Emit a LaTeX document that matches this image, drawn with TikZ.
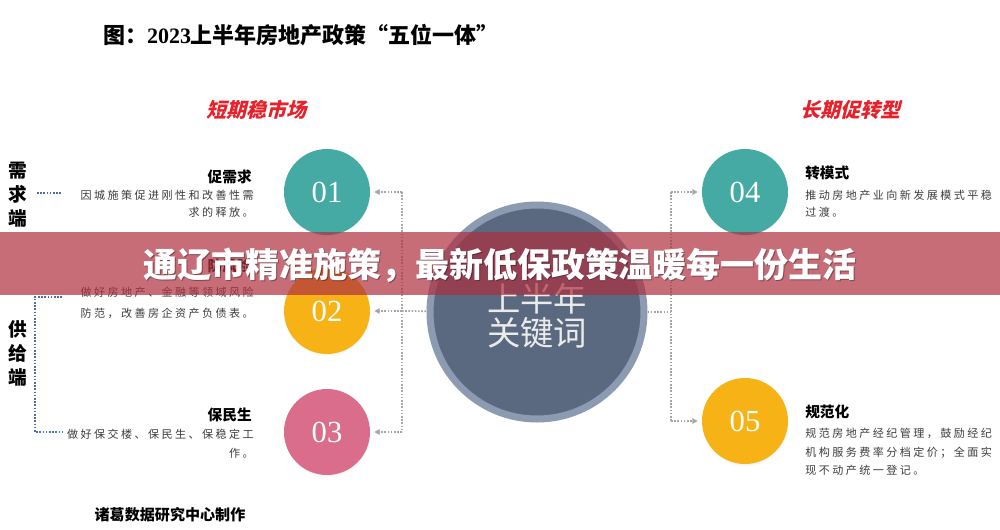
\documentclass[tikz,border=0pt]{standalone}
\usepackage{fontspec}
\newfontfamily\cjk{Noto Sans CJK SC}
\newfontfamily\cjkbody[LetterSpace=22]{Noto Sans CJK SC}
\newfontfamily\cjkslant[FakeSlant=0.25]{Noto Sans CJK SC}
\newfontfamily\serif{Liberation Serif}
\usetikzlibrary{arrows.meta,shadows}
\definecolor{cteal}{RGB}{69,170,164}
\definecolor{camber}{RGB}{247,179,22}
\definecolor{cpink}{RGB}{218,108,140}
\definecolor{cslate}{RGB}{90,104,128}
\definecolor{cring}{RGB}{140,155,178}
\definecolor{cdot}{RGB}{166,166,166}
\definecolor{cblue}{RGB}{79,110,168}
\definecolor{cred}{RGB}{232,32,42}
\definecolor{cbanner}{RGB}{174,48,64}
\definecolor{ctext}{RGB}{60,60,60}
\tikzset{
  numcircle/.style={circle, minimum size=64.5pt, inner sep=0pt, text=white,
    font=\serif\fontsize{23}{23}\selectfont,
    circular drop shadow={shadow xshift=0pt, shadow yshift=-2pt, opacity=0.18, shadow scale=1.0}},
  gline/.style={draw=cdot, line width=1.3pt, dash pattern=on 1.2pt off 1.2pt},
  garrow/.style={gline, -{Triangle[length=4pt,width=4pt,fill=cdot]}, shorten >=3pt},
  bline/.style={draw=cblue, line width=1.3pt, dash pattern=on 1.2pt off 1.2pt},
  body/.style={inner sep=0pt, text=ctext, font=\cjkbody\fontsize{8.3}{8.3}\selectfont},
  head/.style={inner sep=0pt, text=black, font=\cjk\bfseries\fontsize{11}{11}\selectfont},
  redhead/.style={inner sep=0pt, text=cred, font=\cjkslant\bfseries\fontsize{15}{15}\selectfont},
  sidelabel/.style={inner sep=0pt, align=center, text=black, font=\cjk\bfseries\fontsize{14}{18}\selectfont},
}
\begin{document}
\begin{tikzpicture}[x=0.75pt, y=-0.75pt]
\useasboundingbox (0,0) rectangle (1000,529);
\fill[white] (0,0) rectangle (1000,529);

% title
\node[inner sep=0pt, anchor=center] (title) at (301,35)
  {\fontsize{16.5}{16.5}\selectfont\bfseries{\cjk 图：}{\serif 2023}{\cjk 上半年房地产政策“五位一体”}};

\node[redhead] (shortterm) at (256,110) {短期稳市场};
\node[redhead] (longterm) at (850,110) {长期促转型};

% side labels
\node[sidelabel] (demand) at (18,195) {需\\求\\端};
\node[sidelabel] (supply) at (18,353) {供\\给\\端};

\coordinate (d1) at (37,193);
\coordinate (d2) at (62,193);
\draw[bline] (d1) -- (d2);
\coordinate (s1) at (62,297);
\coordinate (s2) at (35,297);
\coordinate (s3) at (35,432);
\coordinate (s4) at (62,432);
\draw[bline] (s1) -- (s2) -- (s3) -- (s4);

% left texts
\node[head, anchor=base east] (h1) at (252,182) {促需求};
\node[body, anchor=base east] (t1a) at (254,199) {因城施策促进刚性和改善性需};
\node[body, anchor=base east] (t1b) at (254,216) {求的释放。};
\node[head, anchor=base east] (h2) at (252,271) {防风险};
\node[body, anchor=base east] (t2a) at (254,296) {做好房地产、金融等领域风险};
\node[body, anchor=base east] (t2b) at (254,317) {防范，改善房企资产负债表。};
\node[head, anchor=base east] (h3) at (252,420) {保民生};
\node[body, anchor=base east] (t3a) at (254,438) {做好保交楼、保民生、保稳定工};
\node[body, anchor=base east] (t3b) at (254,457) {作。};

% right texts
\node[head, anchor=base west] (h4) at (805,178) {转模式};
\node[body, anchor=base west] (t4a) at (805,199) {推动房地产业向新发展模式平稳};
\node[body, anchor=base west] (t4b) at (805,216) {过渡。};
\node[head, anchor=base west] (h5) at (805,417) {规范化};
\node[body, anchor=base west] (t5a) at (805,437) {规范房地产经纪管理，鼓励经纪};
\node[body, anchor=base west] (t5b) at (805,456) {机构服务费率分档定价；全面实};
\node[body, anchor=base west] (t5c) at (805,474) {现不动产统一登记。};

\node[inner sep=0pt, font=\cjk\bfseries\fontsize{11.3}{11.3}\selectfont] (credit) at (170,515) {诸葛数据研究中心制作};

% circles
\node[numcircle, fill=cteal] (c1) at (327,192) {01};
\node[numcircle, fill=camber] (c2) at (327,311) {02};
\node[numcircle, fill=cpink] (c3) at (327,432) {03};
\node[numcircle, fill=cteal] (c4) at (745,192) {04};
\node[numcircle, fill=camber] (c5) at (745,421) {05};

\node[circle, minimum size=160.5pt, inner sep=0pt, fill=cslate, draw=cring, line width=5.25pt] (core) at (537,312) {};
\node[inner sep=0pt, align=center, text=white!92!black, font=\cjk\fontsize{25}{26}\selectfont] (coretext) at (537,316) {上半年\\关键词};

% connectors
\coordinate (lv1) at (402,192);
\coordinate (lv2) at (402,311);
\coordinate (lv3) at (402,432);
\draw[gline] (lv1) -- (lv3);
\draw[gline] (lv2) -- (core);
\draw[garrow] (lv1) -- (c1);
\draw[garrow] (lv2) -- (c2);
\draw[garrow] (lv3) -- (c3);

\coordinate (rv1) at (671,192);
\coordinate (rv2) at (671,312);
\coordinate (rv3) at (671,421);
\draw[gline] (rv1) -- (rv3);
\draw[gline] (core) -- (rv2);
\draw[garrow] (rv1) -- (c4);
\draw[garrow] (rv3) -- (c5);

% banner
\fill[cbanner, opacity=0.7] (0,232) rectangle (1000,295);
\node[inner sep=0pt, text=black, opacity=0.35, font=\cjk\bfseries\fontsize{25.5}{25.5}\selectfont] (bannershadow) at (501,266) {通辽市精准施策，最新低保政策温暖每一份生活};
\node[inner sep=0pt, text=white, font=\cjk\bfseries\fontsize{25.5}{25.5}\selectfont] (banner) at (500,265) {通辽市精准施策，最新低保政策温暖每一份生活};
\end{tikzpicture}
\end{document}
